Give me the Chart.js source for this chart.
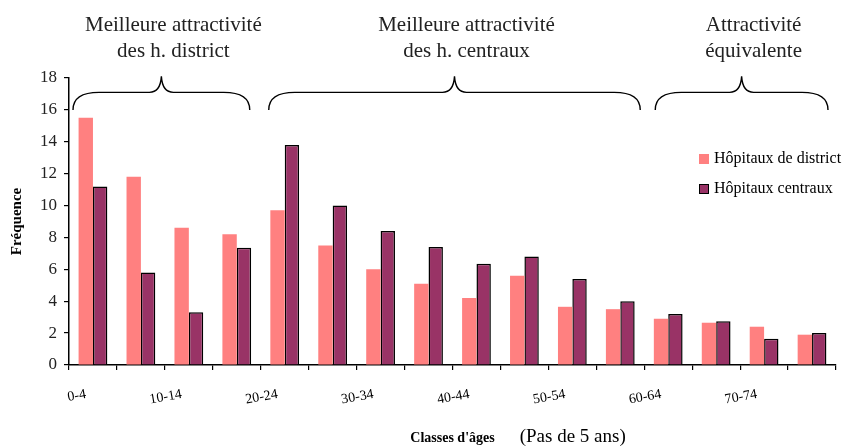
<!DOCTYPE html>
<html>
<head>
<meta charset="utf-8">
<script src="https://cdn.jsdelivr.net/npm/chart.js@4/dist/chart.umd.min.js"></script>
<style>
  body { margin: 0; background: #fff; }
  #wrap { position: relative; width: 845px; height: 448px; }
  #legend { position: absolute; left: 699px; top: 149px; font-family: "Liberation Serif", serif; font-size: 16px; color: #000; }
  #legend .row { height: 30px; white-space: nowrap; }
  #legend .box { display: inline-block; width: 10px; height: 10px; margin-right: 5px; vertical-align: -1px; box-sizing: border-box; }
</style>
</head>
<body>
<div id="wrap">
  <canvas id="myChart" width="845" height="448"></canvas>
  <div id="legend"></div>
</div>
<script>
/*---- data ----*/
var categories = ['0-4', '5-9', '10-14', '15-19', '20-24', '25-29', '30-34', '35-39',
                  '40-44', '45-49', '50-54', '55-59', '60-64', '65-69', '70-74', '75-79'];
var district = [15.5, 11.8, 8.6, 8.2, 9.7, 7.5, 6.0, 5.1, 4.2, 5.6, 3.65, 3.5, 2.9, 2.65, 2.4, 1.9];
var centraux = [11.2, 5.8, 3.3, 7.35, 13.8, 10.0, 8.4, 7.4, 6.35, 6.8, 5.4, 4.0, 3.2, 2.75, 1.65, 2.0];
var seriesNames = ['Hôpitaux de district', 'Hôpitaux centraux'];
var yMax = 18;
var yStep = 2;
var groupRanges = [[0, 3], [4, 11], [12, 15]];
var groupLabels = [['Meilleure attractivité', 'des h. district'],
                   ['Meilleure attractivité', 'des h. centraux'],
                   ['Attractivité', 'équivalente']];
var xTitle = "Classes d'âges";
var xTitleNote = '(Pas de 5 ans)';
var yTitle = 'Fréquence';

var serif = '"Liberation Serif", "Times New Roman", serif';
var braceInsets = [[4, 11], [8, 4], [11, 8]];

/*---- braces + group captions above the plot, and the note next to the x title ----*/
var bracePlugin = {
  id: 'braces',
  afterDraw: function(chart) {
    var ctx = chart.ctx;
    var x = chart.scales.x;
    var y = chart.scales.y;
    var catW = x.width / categories.length;
    var yEnd = y.getPixelForValue(16);
    var yFlat = y.getPixelForValue(17.1);
    var yPeak = y.getPixelForValue(18.1);
    ctx.save();
    ctx.strokeStyle = '#000';
    ctx.lineWidth = 1.4;
    ctx.fillStyle = '#222';
    ctx.font = '21px ' + serif;
    ctx.textAlign = 'center';
    ctx.textBaseline = 'middle';
    for (var g = 0; g < groupRanges.length; g++) {
      var L = x.getPixelForValue(groupRanges[g][0]) - catW / 2 + braceInsets[g][0];
      var R = x.getPixelForValue(groupRanges[g][1]) + catW / 2 - braceInsets[g][1];
      var cx = (L + R) / 2;
      var r = Math.min(26, (R - L) / 6);
      ctx.beginPath();
      ctx.moveTo(L, yEnd);
      ctx.quadraticCurveTo(L, yFlat, L + r, yFlat);
      ctx.lineTo(cx - 12, yFlat);
      ctx.quadraticCurveTo(cx - 1, yFlat, cx, yPeak);
      ctx.quadraticCurveTo(cx + 1, yFlat, cx + 12, yFlat);
      ctx.lineTo(R - r, yFlat);
      ctx.quadraticCurveTo(R, yFlat, R, yEnd);
      ctx.stroke();
      ctx.fillText(groupLabels[g][0], cx + 12, yPeak - 51);
      ctx.fillText(groupLabels[g][1], cx + 12, yPeak - 25);
    }
    // second half of the x title, drawn in a larger plain font
    ctx.font = 'bold 14px ' + serif;
    var w = ctx.measureText(xTitle).width;
    ctx.font = '19px ' + serif;
    ctx.textAlign = 'left';
    ctx.fillStyle = '#000';
    ctx.fillText(xTitleNote, (x.left + x.right) / 2 + w / 2 + 25, x.bottom - 10);
    ctx.restore();
  }
};

var ctx = document.getElementById('myChart').getContext('2d');
var myChart = new Chart(ctx, {
  type: 'bar',
  data: {
    labels: categories,
    datasets: [{
      label: seriesNames[0],
      data: district,
      backgroundColor: '#ff8080',
      borderWidth: 0,
      barPercentage: 1.0,
      categoryPercentage: 0.6
    }, {
      label: seriesNames[1],
      data: centraux,
      backgroundColor: '#993366',
      borderColor: '#000',
      borderWidth: 1.5,
      barPercentage: 1.0,
      categoryPercentage: 0.6
    }]
  },
  options: {
    responsive: false,
    animation: false,
    layout: { padding: { left: 4, right: 9, top: 78, bottom: 1 } },
    plugins: {
      legend: { display: false },
      tooltip: { enabled: false }
    },
    scales: {
      x: {
        border: { color: '#000', width: 1.5 },
        grid: { offset: true, drawOnChartArea: false, drawTicks: true, tickLength: 5, color: '#000', lineWidth: 1.2 },
        ticks: {
          autoSkip: false,
          minRotation: 10,
          maxRotation: 10,
          labelOffset: -7,
          padding: 16,
          color: '#000',
          font: { family: serif, size: 14 },
          callback: function(value, index) {
            return index % 2 === 0 ? categories[index] : '';
          }
        },
        title: {
          display: true,
          text: xTitle,
          color: '#000',
          font: { family: serif, size: 14, weight: 'bold' },
          padding: { top: 6, bottom: 0 }
        }
      },
      y: {
        min: 0,
        max: yMax,
        border: { color: '#000', width: 1.5 },
        grid: { drawOnChartArea: false, drawTicks: true, tickLength: 5, color: '#000', lineWidth: 1.2 },
        ticks: {
          stepSize: yStep,
          padding: 7,
          color: '#222',
          font: { family: serif, size: 17 }
        },
        title: {
          display: true,
          text: yTitle,
          color: '#000',
          font: { family: serif, size: 15, weight: 'bold' },
          padding: { top: 4, bottom: 7 }
        }
      }
    }
  },
  plugins: [bracePlugin]
});

/*---- html legend built from the datasets ----*/
var legendDiv = document.getElementById('legend');
myChart.data.datasets.forEach(function(ds) {
  var row = document.createElement('div');
  row.className = 'row';
  var box = document.createElement('span');
  box.className = 'box';
  box.style.backgroundColor = ds.backgroundColor;
  if (ds.borderWidth) box.style.border = '1.5px solid ' + ds.borderColor;
  row.appendChild(box);
  row.appendChild(document.createTextNode(ds.label));
  legendDiv.appendChild(row);
});
</script>
</body>
</html>
